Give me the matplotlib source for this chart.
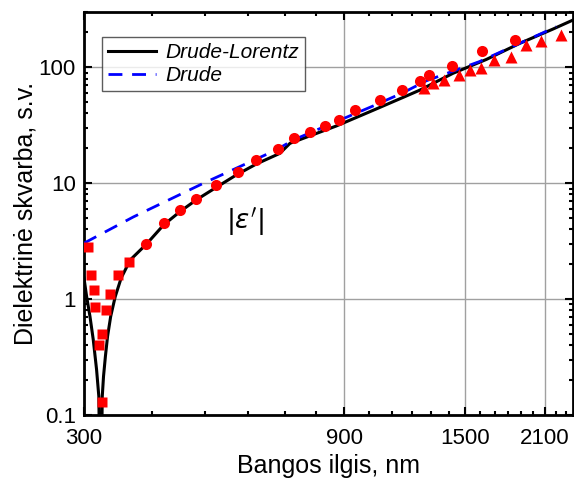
import matplotlib
matplotlib.use("Agg")
import matplotlib.pyplot as plt
from matplotlib.ticker import FixedLocator, NullFormatter

plt.rcParams["font.family"] = ["Liberation Sans", "DejaVu Sans"]
plt.rcParams["mathtext.fontset"] = "dejavusans"

# measured |eps'| : short-wavelength points (squares)
sq_wl = [305.7, 309.3, 313.2, 314.9, 319.3, 323.1, 324.4, 329.3, 334.2, 346.0, 362.8]
sq_eps = [2.81, 1.61, 1.20, 0.853, 0.40, 0.130, 0.50, 0.80, 1.11, 1.61, 2.10]

# visible / near-IR points (circles)
ci_wl = [390, 420, 450, 481, 525, 575, 620, 681, 728, 779, 829, 879, 944,
         1049, 1149, 1238, 1286, 1419, 1610, 1851]
ci_eps = [3.0, 4.52, 5.85, 7.32, 9.67, 12.6, 15.8, 19.9, 24.4, 27.4, 31.4,
          35.4, 42.6, 52.7, 64.3, 76.2, 85.3, 102, 137, 173]

# IR points (triangles)
tr_wl = [1261, 1310, 1372, 1459, 1530, 1607, 1697, 1818, 1937, 2063, 2251]
tr_eps = [66.8, 73.2, 78.3, 85.3, 94.2, 98.6, 115, 124, 157, 168, 189]

# Drude-Lorentz fit
dl_wl = [300, 303.4, 307.7, 312, 316.4, 319.4, 321.8, 324.1, 325.8, 328.4,
         331.4, 335.8, 342.3, 351, 364.8, 391, 420, 450, 482, 525, 571, 622,
         686, 716, 871, 1003, 1154, 1238, 1425, 1641, 1889, 2174, 2366]
dl_eps = [1.52, 1.05, 0.708, 0.446, 0.246, 0.145, 0.01, 0.145, 0.215, 0.32,
          0.476, 0.708, 1.05, 1.52, 2.18, 3.0, 4.37, 5.69, 7.18, 9.24, 11.8,
          14.7, 18.1, 22.1, 31.2, 41.4, 55.0, 63.5, 88.8, 117, 161, 214, 256]

# Drude fit
dr_wl = [300, 369.6, 498, 676, 726, 823, 1017, 1154, 1274, 1593, 2204]
dr_eps = [3.04, 5.12, 10.05, 19.4, 23.6, 30.4, 46.4, 60.4, 76.6, 112, 224]

x_major = [300, 900, 1500, 2100]
x_minor = [400, 500, 600, 700, 800, 1000, 1100, 1200, 1300, 1400,
           1600, 1700, 1800, 1900, 2000, 2200, 2300]
y_major = [0.1, 1, 10, 100]
y_labels = ["0.1", "1", "10", "100"]

fig = plt.figure(figsize=(5.74, 4.82), dpi=100)
ax = fig.add_axes([0.1463, 0.139, 0.852, 0.836])

ax.plot(dl_wl, dl_eps, color="black", lw=2.2, label="Drude-Lorentz", zorder=3)
ax.plot(dr_wl, dr_eps, color="#0000ff", lw=2.0, ls=(0, (5, 3.5)),
        label="Drude", zorder=4)

red = "#ff0000"
ax.plot(sq_wl, sq_eps, "s", color=red, ms=6.5, mec="none", zorder=5)
ax.plot(ci_wl, ci_eps, "o", color=red, ms=8, mec="none", zorder=5)
ax.plot(tr_wl, tr_eps, "^", color=red, ms=8.5, mec="none", zorder=5)

ax.set_xscale("log")
ax.set_yscale("log")
ax.set_xlim(300, 2366)
ax.set_ylim(0.1, 300)

ax.xaxis.set_major_locator(FixedLocator(x_major))
ax.xaxis.set_minor_locator(FixedLocator(x_minor))
ax.set_xticklabels([str(v) for v in x_major])
ax.xaxis.set_minor_formatter(NullFormatter())
ax.set_yticks(y_major)
ax.set_yticklabels(y_labels)
ax.yaxis.set_minor_formatter(NullFormatter())

ax.tick_params(which="both", direction="in", top=True, right=True,
               width=1.5, labelsize=16)
ax.tick_params(which="major", length=6, pad=6)
ax.tick_params(axis="x", which="major", pad=9)
ax.tick_params(which="minor", length=3)

ax.grid(True, which="major", color="#a0a0a0", lw=1.0, zorder=0)
for s in ax.spines.values():
    s.set_linewidth(2.0)

ax.set_xlabel("Bangos ilgis, nm", fontsize=18, labelpad=4)
ax.set_ylabel("Dielektrinė skvarba, s.v.", fontsize=18, labelpad=1)

ax.text(592, 4.64, r"$|\varepsilon'|$", fontsize=19, ha="center",
        va="center")

leg = ax.legend(loc="upper left", bbox_to_anchor=(0.036, 0.939), fontsize=15,
                frameon=True, fancybox=False, edgecolor="#333333",
                handlelength=2.3, borderpad=0.3, labelspacing=0.2,
                handletextpad=0.45, borderaxespad=0)
leg.get_frame().set_linewidth(1.0)
for t in leg.get_texts():
    t.set_fontstyle("italic")

fig.savefig("out.png", dpi=100)
